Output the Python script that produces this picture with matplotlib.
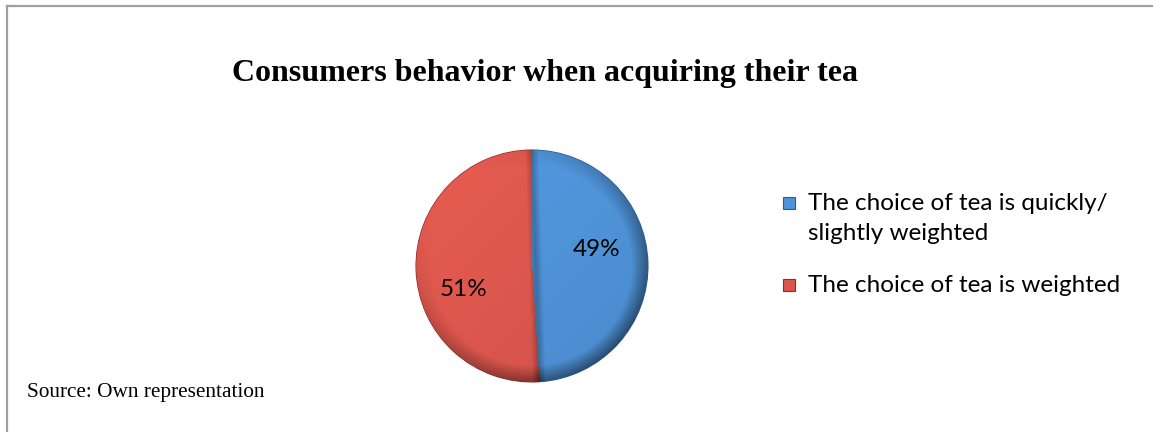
import matplotlib
matplotlib.use("Agg")
import numpy as np
import matplotlib.pyplot as plt
from matplotlib.patches import Rectangle
from matplotlib.lines import Line2D
from matplotlib.colors import to_rgb

title = "Consumers behavior when acquiring their tea"
categories = ["The choice of tea is quickly/\nslightly weighted", "The choice of tea is weighted"]
values = [49, 51]
colors = ["#4F93D8", "#DC574D"]
edge_colors = ["#2B5C90", "#8A2E29"]
source = "Source: Own representation"

W, H = 1153, 432
fig = plt.figure(figsize=(W / 100, H / 100), dpi=100)
fig.patch.set_facecolor("white")

# frame lines (top and left)
fig.add_artist(Line2D([7 / W, 1], [1 - 6 / H, 1 - 6 / H], color="#A0A0A0", lw=1.6))
fig.add_artist(Line2D([7 / W, 7 / W], [0, 1 - 6 / H], color="#A0A0A0", lw=1.6))

fig.text(545 / W, 1 - 74 / H, title, ha="center", va="center",
         fontsize=23, fontweight="bold", family="Liberation Serif")

cx, cy, r = 532, 266, 117
ax = fig.add_axes([(cx - r) / W, 1 - (cy + r) / H, 2 * r / W, 2 * r / H])
wedges, texts, autotexts = ax.pie(values, colors=colors, startangle=90, counterclock=False,
                                  autopct=lambda p: f"{p:.0f}%", radius=1,
                                  wedgeprops=dict(linewidth=1.0),
                                  textprops=dict(fontsize=17.5, family="Lato", color="black"))
for w, ec in zip(wedges, edge_colors):
    w.set_edgecolor(ec)

# bevel shading clipped to each wedge
n = 400
xs = np.linspace(-1, 1, n)
X, Y = np.meshgrid(xs, xs)
RR = np.sqrt(X ** 2 + Y ** 2) + 1e-9
rim = np.clip((RR - 0.86) / 0.14, 0, 1)
d = (X - Y) / np.sqrt(2) / RR
factor = 1 - rim * (0.22 + 0.22 * d) + 0.06 * (Y - X) / 2
# dark band along the dividing line
ang = np.radians(90 - 360 * values[0] / 100)
p0 = np.array([0.0, 1.0]); p1 = np.array([np.cos(ang), np.sin(ang)])
dv = p1 - p0; dv = dv / np.linalg.norm(dv)
dist = np.abs((X - p0[0]) * dv[1] - (Y - p0[1]) * dv[0])
factor = factor - 0.25 * np.clip(1 - dist / 0.06, 0, 1)
for w, c in zip(wedges, colors):
    base = np.array(to_rgb(c))
    img = np.clip(base[None, None, :] * factor[..., None], 0, 1)
    im = ax.imshow(img, extent=[-1, 1, -1, 1], origin="lower", zorder=w.get_zorder() + 0.1,
                   interpolation="bilinear")
    im.set_clip_path(w)
for t in autotexts:
    t.set_zorder(5)
autotexts[0].set_position((0.56, 0.14))
autotexts[1].set_position((-0.59, -0.2))
for t in autotexts:
    t.set_ha("center"); t.set_va("center")
ax.set_xlim(-1.01, 1.01)
ax.set_ylim(-1.01, 1.01)
ax.set_aspect("equal")
ax.axis("off")

# legend
leg_y = [203, 285]
line_gap = 31
for lab, c, ec, y in zip(categories, colors, edge_colors, leg_y):
    s = 12
    fig.add_artist(Rectangle(((789 - s / 2) / W, 1 - (y + s / 2) / H), s / W, s / H,
                             facecolor=c, edgecolor=ec, lw=0.8, transform=fig.transFigure))
    for k, line in enumerate(lab.split("\n")):
        fig.text(808 / W, 1 - (y + k * line_gap) / H, line, ha="left", va="center",
                 fontsize=17.5, family="Lato")

fig.text(27 / W, 1 - 393 / H, source, ha="left", va="center", fontsize=15.3,
         family="Liberation Serif")

fig.savefig("out.png", dpi=100)
